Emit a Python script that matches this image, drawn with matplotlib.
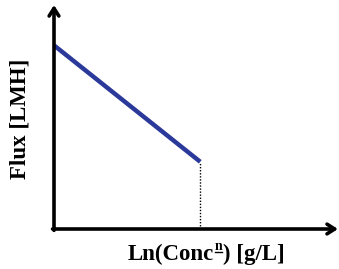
import matplotlib
matplotlib.use("Agg")
import matplotlib.pyplot as plt
from matplotlib.lines import Line2D

# Data (axes-fraction units, schematic)
conc = [0.0, 0.515]
flux = [0.82, 0.30]
x_label_parts = ["Ln(Conc", "n", ") [g/L]"]
y_label = "Flux [LMH]"

plt.rcParams['font.family'] = ['Liberation Serif', 'DejaVu Serif']

W, H = 339, 269
fig = plt.figure(figsize=(W/100, H/100), dpi=100)
left, right, bottom, top = 54, 338, 229, 5
ax = fig.add_axes([left/W, (H-bottom)/H, (right-left)/W, (bottom-top)/H])
ax.set_xlim(0, 1)
ax.set_ylim(0, 1)
ax.axis('off')

ax.plot(conc, flux, color='#2B3A9A', lw=3.2, solid_capstyle='butt')
ax.plot([conc[-1], conc[-1]], [0, flux[-1]], color='black', lw=1.0, ls=(0, (1, 1.2)))

ap = dict(arrowstyle='->,head_length=0.55,head_width=0.35', lw=2.6, color='black',
          shrinkA=0, shrinkB=0)
ax.annotate('', xy=(1, 0), xytext=(-0.005, 0), xycoords='axes fraction', arrowprops=ap)
ax.annotate('', xy=(0, 1), xytext=(0, -0.006), xycoords='axes fraction', arrowprops=ap)

fs = 16.5
base_y = H - 260
t1 = fig.text(128/W, base_y/H, x_label_parts[0], ha='left', va='baseline',
              fontsize=fs, fontweight='bold')
t2 = fig.text(0, 0, x_label_parts[1], fontsize=10, fontweight='bold', ha='left', va='baseline')
t3 = fig.text(0, 0, x_label_parts[2], fontsize=fs, fontweight='bold', ha='left', va='baseline')

fig.canvas.draw()
r = fig.canvas.get_renderer()
b1 = t1.get_window_extent(r)
sup_base = base_y + 10
t2.set_position(((b1.x1 + 0.5)/W, sup_base/H))
fig.canvas.draw()
b2 = t2.get_window_extent(r)
t3.set_position(((b2.x1 + 0.5)/W, base_y/H))
uy = (sup_base - 2)/H
fig.add_artist(Line2D([(b2.x0 + 0.5)/W, (b2.x1 - 0.5)/W], [uy, uy], color='black', lw=1.0,
                      transform=fig.transFigure))

fig.text(20/W, 1 - 119/H, y_label, ha='center', va='center', fontsize=fs, fontweight='bold',
         rotation=90)

fig.savefig('out.png', dpi=100)
